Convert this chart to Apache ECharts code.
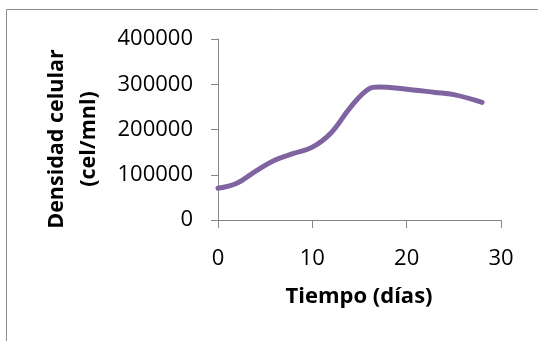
<!DOCTYPE html>
<html>
<head>
<meta charset="utf-8">
<script src="https://cdn.jsdelivr.net/npm/echarts@6/dist/echarts.min.js"></script>
<style>
  html, body { margin: 0; padding: 0; background: #fff; }
  #chart { width: 538px; height: 341px; }
</style>
</head>
<body>
<div id="chart"></div>
<script>
// Cell density over the culture period
const dias = [0, 2, 4, 6, 8, 10, 12, 14, 16, 17, 20, 23, 25, 28];
const densidad = [70000, 81000, 108000, 132000, 147000, 161000, 193000, 248000, 290000, 294000, 289000, 282000, 277000, 260000];
const xTicks = [0, 10, 20, 30];
const yTicks = [0, 100000, 200000, 300000, 400000];

const FONT = '"Open Sans", "Noto Sans", sans-serif';
const AXIS_GRAY = '#868686';

const chart = echarts.init(document.getElementById('chart'), null, { renderer: 'canvas' });

chart.setOption({
  animation: false,
  backgroundColor: '#fff',
  grid: { left: 218, right: 37, top: 39, bottom: 121, containLabel: false },
  xAxis: {
    type: 'value',
    min: xTicks[0],
    max: xTicks[xTicks.length - 1],
    interval: 10,
    axisLine: { show: true, lineStyle: { color: AXIS_GRAY, width: 1 } },
    axisTick: { show: true, length: 8, inside: false, lineStyle: { color: AXIS_GRAY } },
    splitLine: { show: false },
    axisLabel: { color: '#000', fontFamily: FONT, fontSize: 22, margin: 28, formatter: v => String(v) }
  },
  yAxis: {
    type: 'value',
    min: yTicks[0],
    max: yTicks[yTicks.length - 1],
    interval: 100000,
    axisLine: { show: true, lineStyle: { color: AXIS_GRAY, width: 1 } },
    axisTick: { show: true, length: 7, inside: false, lineStyle: { color: AXIS_GRAY } },
    splitLine: { show: false },
    axisLabel: { color: '#000', fontFamily: FONT, fontSize: 22, margin: 25, formatter: v => String(v) }
  },
  series: [{
    type: 'line',
    data: dias.map((d, i) => [d, densidad[i]]),
    smooth: 0.4,
    showSymbol: false,
    lineStyle: { color: '#8064A2', width: 5, cap: 'round', join: 'round' }
  }],
  graphic: [
    {
      type: 'rect',
      shape: { x: 6.5, y: 9.5, width: 700, height: 500 },
      style: { fill: null, stroke: '#8c8c8c', lineWidth: 1 },
      silent: true
    },
    {
      type: 'text',
      x: 359, y: 297,
      style: {
        text: 'Tiempo (días)',
        font: 'bold 22px ' + FONT,
        fill: '#000',
        align: 'center',
        verticalAlign: 'middle'
      }
    },
    {
      type: 'text',
      x: 57, y: 139,
      rotation: Math.PI / 2,
      style: {
        text: 'Densidad celular',
        font: 'bold 21.5px ' + FONT,
        fill: '#000',
        align: 'center',
        verticalAlign: 'middle'
      }
    },
    {
      type: 'text',
      x: 89, y: 139,
      rotation: Math.PI / 2,
      style: {
        text: '(cel/mnl)',
        font: 'bold 21.5px ' + FONT,
        fill: '#000',
        align: 'center',
        verticalAlign: 'middle'
      }
    }
  ]
});
</script>
</body>
</html>
